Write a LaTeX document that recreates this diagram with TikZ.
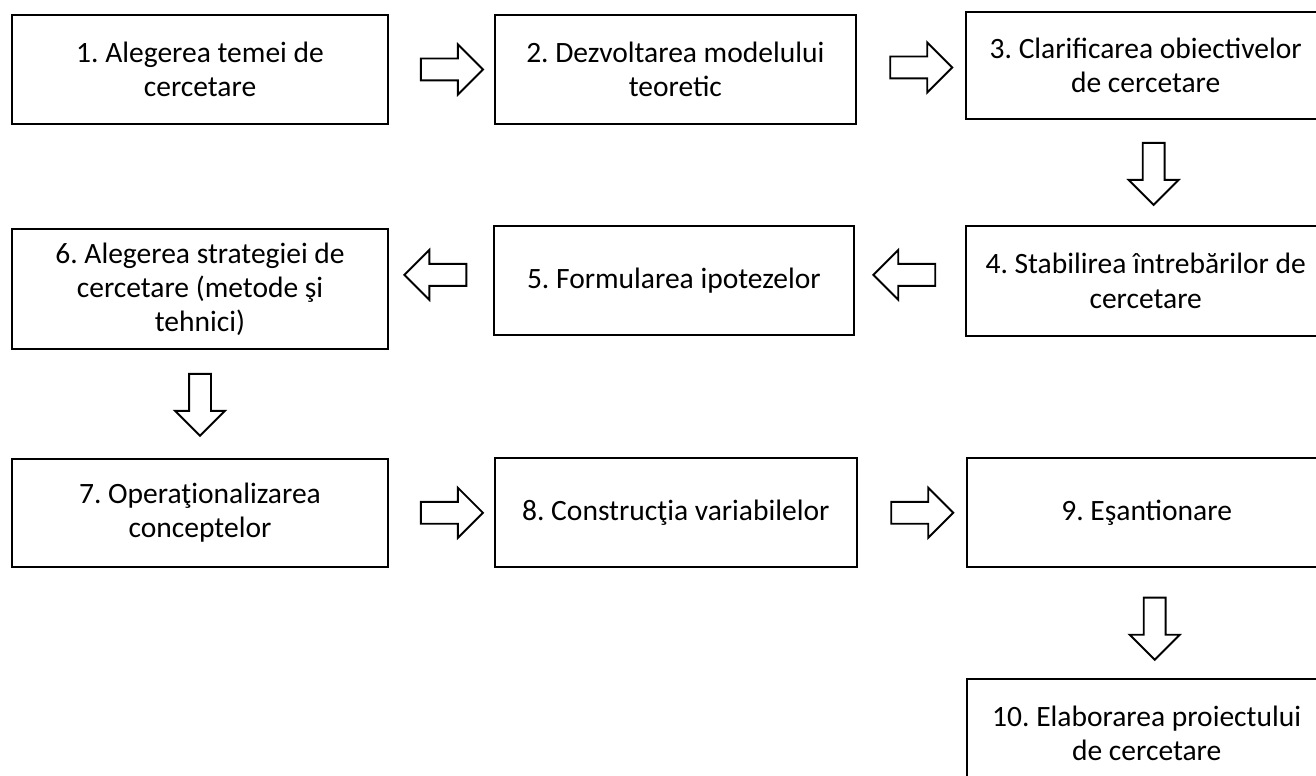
\documentclass[tikz,border=0pt]{standalone}
\usepackage{fontspec}
\setmainfont{Carlito}
\frenchspacing
\usetikzlibrary{positioning,calc,shapes.arrows}

\begin{document}
\begin{tikzpicture}[
        x=0.02cm, y=-0.02cm,
        font=\fontsize{16.8}{19.4}\selectfont,
        stage/.style={rectangle,draw,line width=1.1pt,minimum width=7.52cm,minimum height=2.18cm,align=center,inner sep=2pt},
        flow/.style={single arrow,draw,line width=1.1pt,minimum height=1.24cm,inner sep=0.2cm,single arrow head extend=0.28cm}
    ]
        \useasboundingbox (0,0) rectangle (1316,776);
        \clip (0,0) rectangle (1316,776);

        \node[stage] (s1) at (200,69.5) {1. Alegerea temei de\\cercetare};
        \node[stage,minimum width=7.22cm,right=2.1cm of s1] (s2) {2. Dezvoltarea modelului\\teoretic};
        \node[stage,minimum width=7.2cm,minimum height=2.14cm,right=2.16cm of s2,yshift=0.08cm] (s3) {3. Clarificarea obiectivelor\\de cercetare};
        \node[stage,minimum width=7.2cm,minimum height=2.2cm,below=2.1cm of s3] (s4) {4. Stabilirea întrebărilor de\\cercetare};
        \node[stage,minimum width=7.2cm,left=2.2cm of s4] (s5) {5. Formularea ipotezelor};
        \node[stage,minimum height=2.4cm,left=2.08cm of s5,yshift=-0.16cm] (s6) {6. Alegerea strategiei de\\cercetare (metode şi\\tehnici)};
        \node[stage,minimum height=2.16cm,below=2.16cm of s6] (s7) {7. Operaţionalizarea\\conceptelor};
        \node[stage,minimum width=7.24cm,right=2.1cm of s7] (s8) {8. Construcţia variabilelor};
        \node[stage,minimum width=7.2cm,right=2.16cm of s8] (s9) {9. Eşantionare};
        \node[stage,minimum width=7.2cm,below=2.2cm of s9] (s10) {10. Elaborarea proiectului\\de cercetare};

        \node[flow,xshift=0.1cm] (a12) at ($(s1.east)!0.5!(s2.west)$) {};
        \node[flow,xshift=0.1cm] (a23) at ($(s2.east)!0.5!(s3.west)$) {};
        \node[flow,shape border rotate=270,xshift=0.16cm,yshift=0.08cm] (a34) at ($(s3.south)!0.5!(s4.north)$) {};
        \node[flow,shape border rotate=180,yshift=0.12cm] (a45) at ($(s5.east)!0.5!(s4.west)$) {};
        \node[flow,shape border rotate=180,yshift=0.12cm] (a56) at ($(s6.east |- s5.west)!0.5!(s5.west)$) {};
        \node[flow,shape border rotate=270,yshift=0.09cm] (a67) at ($(s6.south)!0.5!(s7.north)$) {};
        \node[flow,xshift=0.1cm] (a78) at ($(s7.east)!0.5!(s8.west)$) {};
        \node[flow,xshift=0.1cm] (a89) at ($(s8.east)!0.5!(s9.west)$) {};
        \node[flow,shape border rotate=270,xshift=0.16cm] (a910) at ($(s9.south)!0.5!(s10.north)$) {};
    \end{tikzpicture}
\end{document}
